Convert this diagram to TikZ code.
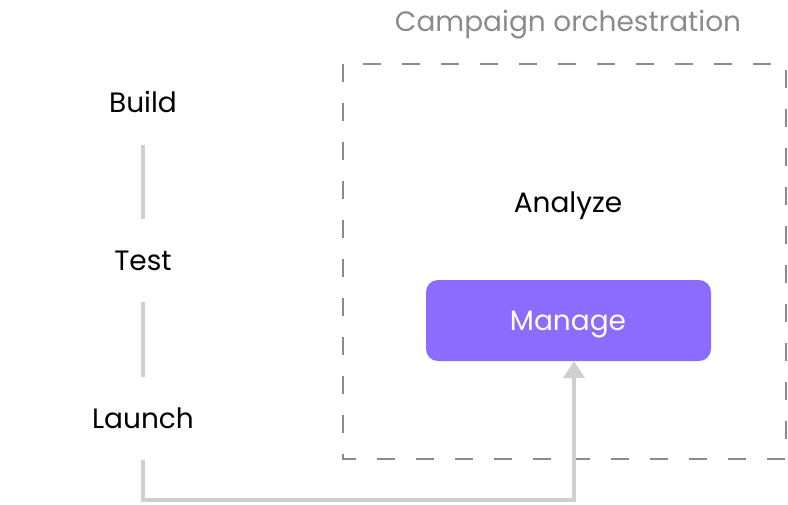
\documentclass[tikz,border=0pt]{standalone}
\usepackage{fontspec}
\setmainfont{Poppins}
\usetikzlibrary{arrows.meta}
\definecolor{titlegray}{HTML}{8A8A8F}
\definecolor{boxgray}{HTML}{8A8A8A}
\definecolor{linegray}{HTML}{CFCFCF}
\definecolor{manage}{HTML}{8C6CFF}
\tikzset{
  lbl/.style={font=\fontsize{28}{32}\selectfont, text=black, inner sep=0pt, anchor=base},
  ttl/.style={font=\fontsize{28}{32}\selectfont, text=titlegray, inner sep=0pt, anchor=base},
  conn/.style={draw=linegray, line width=3.5pt},
  frame/.style={draw=boxgray, line width=1.8pt, dash pattern=on 18pt off 21pt},
}
\begin{document}
\begin{tikzpicture}[x=1pt,y=-1pt]
\useasboundingbox (0,0) rectangle (788,504);
\draw[frame] (343,64) rectangle (786,459);
\node[ttl] (title) at (568,31.5) {Campaign orchestration};
\node[lbl] (build) at (143,112.5) {Build};
\node[lbl] (test) at (143,270) {Test};
\node[lbl] (launch) at (143,428) {Launch};
\node[lbl] (analyze) at (568,212) {Analyze};
\fill[manage, rounded corners=12pt] (426,280) rectangle (711,361);
\node[lbl, text=white] (manage) at (568,330) {Manage};
\coordinate (mb) at (574,361);
\coordinate (b1) at (143,145);
\coordinate (b2) at (143,219);
\coordinate (t1) at (143,302);
\coordinate (t2) at (143,377);
\coordinate (l1) at (143,460);
\draw[conn] (b1) -- (b2);
\draw[conn] (t1) -- (t2);
\draw[conn, -{Triangle[length=17pt,width=21pt]}] (l1) |- (574,500) -- (mb);
\end{tikzpicture}
\end{document}
